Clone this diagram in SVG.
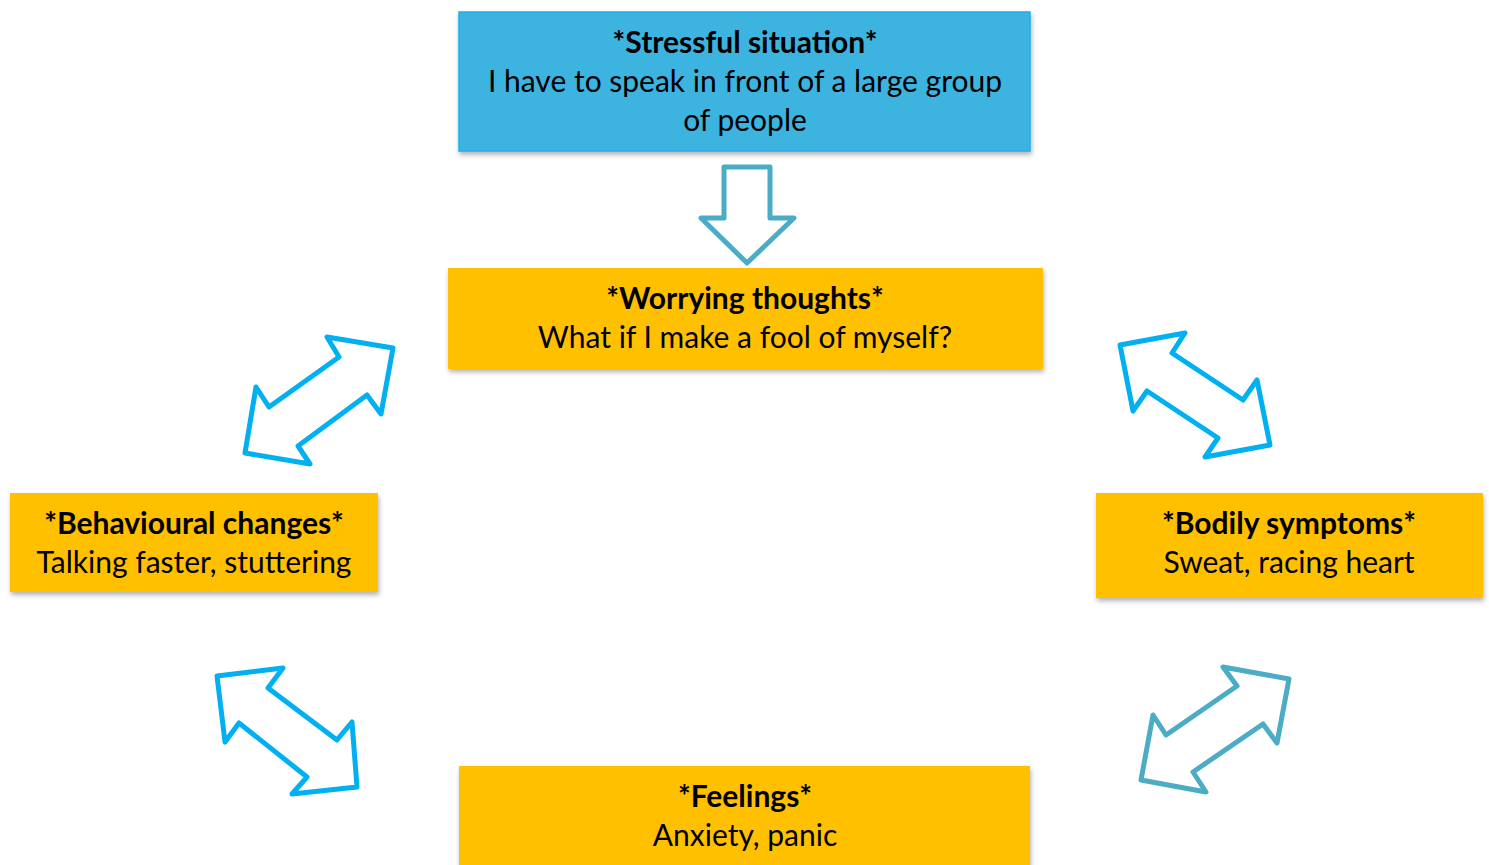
<svg xmlns="http://www.w3.org/2000/svg" width="1489" height="865" viewBox="0 0 1489 865">
<defs>
<filter id="sh" x="-5%" y="-10%" width="110%" height="130%">
<feDropShadow dx="1" dy="3" stdDeviation="2.5" flood-color="#000" flood-opacity="0.3"/>
</filter>
<style>
.box{fill:#FFC000;filter:url(#sh)}
.blue{fill:#3DB3E0;stroke:#1EAEEB;stroke-width:1.5;filter:url(#sh)}
.t{font-family:Lato,"Open Sans",sans-serif;font-size:30px;fill:#000;text-anchor:middle}
.b{font-weight:bold}
.a{fill:#fff;stroke:#00B0F0;stroke-width:5;stroke-linejoin:round}
.a2{fill:#fff;stroke:#4BACC6;stroke-width:5;stroke-linejoin:round}
</style>
</defs>
<rect width="1489" height="865" fill="#fff"/>
<g id="connectors">
<polygon class="a2" points="724,167 770,167 770,218 794,218 747,263 701,218 724,218"/>
<polygon class="a" points="327,337 393,348 381,414 367,395 298,446 310,464 245,453 256,387 269,407 339,357"/>
<polygon class="a" points="1120,345 1185,333 1172,353 1243,400 1257,380 1270,445 1205,457 1218,438 1147,391 1133,411"/>
<polygon class="a" points="217,676 283,668 268,688 337,740 352,722 357,787 292,794 307,777 239,723 225,742"/>
<polygon class="a2" points="1223,667 1289,679 1277,743 1263,724 1193,772 1206,792 1141,780 1153,715 1166,735 1237,686"/>
</g>
<g id="stressful">
<rect class="blue" x="459" y="12" width="571" height="139"/>
<text class="t b" x="745" y="53">*Stressful situation*</text>
<text class="t" x="745" y="92">I have to speak in front of a large group</text>
<text class="t" x="745" y="131">of people</text>
</g>
<g id="thoughts">
<rect class="box" x="448" y="268" width="595" height="101"/>
<text class="t b" x="745" y="309">*Worrying thoughts*</text>
<text class="t" x="745" y="348">What if I make a fool of myself?</text>
</g>
<g id="behaviour">
<rect class="box" x="10" y="493" width="368" height="99"/>
<text class="t b" x="194" y="534">*Behavioural changes*</text>
<text class="t" x="194" y="573">Talking faster, stuttering</text>
</g>
<g id="bodily">
<rect class="box" x="1096" y="493" width="387" height="105"/>
<text class="t b" x="1289" y="534">*Bodily symptoms*</text>
<text class="t" x="1289" y="573">Sweat, racing heart</text>
</g>
<g id="feelings">
<rect class="box" x="459" y="766" width="571" height="110"/>
<text class="t b" x="745" y="807">*Feelings*</text>
<text class="t" x="745" y="846">Anxiety, panic</text>
</g>
</svg>
